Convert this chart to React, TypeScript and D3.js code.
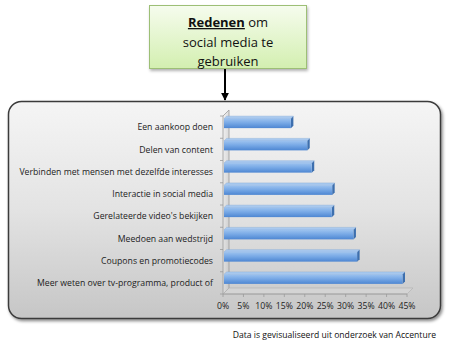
import React from "react";
import * as d3 from "d3";

const categories = [
  "Een aankoop doen",
  "Delen van content",
  "Verbinden met mensen met dezelfde interesses",
  "Interactie in social media",
  "Gerelateerde video's bekijken",
  "Meedoen aan wedstrijd",
  "Coupons en promotiecodes",
  "Meer weten over tv-programma, product of",
];
const values = [16.6, 20.6, 21.7, 26.7, 26.6, 31.9, 32.8, 43.9];
const tickValues = [0, 5, 10, 15, 20, 25, 30, 35, 40, 45];
const titleBold = "Redenen";
const titleLines = [" om", "social media te", "gebruiken"];
const footer = "Data is gevisualiseerd uit onderzoek van Accenture";

const FONT = "'Open Sans', Lato, sans-serif";

export default function App() {
  const x = d3.scaleLinear().domain([0, 45]).range([223, 407]);
  const y = d3.scaleBand<string>().domain(categories).range([116, 294]);
  const bw = y.bandwidth();
  const depth = 6;
  const bd = 2.5;
  const floorY = 294;
  const wallTop = 116;

  return (
    <svg width={449} height={344} style={{ position: "absolute", left: 0, top: 0 }}>
      <defs>
        <linearGradient id="panelG" x1="0" y1="0" x2="0" y2="1">
          <stop offset="0" stopColor="#f5f5f5" />
          <stop offset="0.5" stopColor="#e3e3e3" />
          <stop offset="1" stopColor="#c6c6c6" />
        </linearGradient>
        <linearGradient id="titleG" x1="0" y1="0" x2="0" y2="1">
          <stop offset="0" stopColor="#f6fcee" />
          <stop offset="1" stopColor="#d3efb0" />
        </linearGradient>
        <linearGradient id="barG" x1="0" y1="0" x2="0" y2="1">
          <stop offset="0" stopColor="#9cc2ef" />
          <stop offset="0.45" stopColor="#78a9e6" />
          <stop offset="1" stopColor="#4d86d2" />
        </linearGradient>
        <linearGradient id="wallG" x1="0" y1="0" x2="1" y2="1">
          <stop offset="0" stopColor="#f2f2f2" />
          <stop offset="1" stopColor="#c8c8c8" />
        </linearGradient>
        <filter id="sh" x="-10%" y="-10%" width="120%" height="130%">
          <feDropShadow dx="1.5" dy="2" stdDeviation="1.5" floodColor="#000" floodOpacity="0.45" />
        </filter>
        <filter id="sh2" x="-10%" y="-10%" width="130%" height="140%">
          <feDropShadow dx="1" dy="2" stdDeviation="1.5" floodColor="#000" floodOpacity="0.3" />
        </filter>
        <marker id="arr" viewBox="0 0 10 10" refX="9" refY="5" markerWidth="4" markerHeight="4" orient="auto">
          <path d="M0,0 L10,5 L0,10 z" fill="#000" />
        </marker>
      </defs>

      {/* title box */}
      <rect x={149.5} y={5.5} width={157} height={63} fill="url(#titleG)" stroke="#9dbf76" strokeWidth={1} filter="url(#sh2)" />
      <text x={228} y={27} textAnchor="middle" fontFamily={FONT} fontSize={13} fill="#111">
        <tspan fontWeight="bold" textDecoration="underline">{titleBold}</tspan>
        <tspan>{titleLines[0]}</tspan>
      </text>
      <text x={228} y={47} textAnchor="middle" fontFamily={FONT} fontSize={13} fill="#111">{titleLines[1]}</text>
      <text x={228} y={66} textAnchor="middle" fontFamily={FONT} fontSize={13} fill="#111">{titleLines[2]}</text>

      {/* arrow */}
      <line x1={225} y1={69} x2={225} y2={100} stroke="#000" strokeWidth={2} markerEnd="url(#arr)" />

      {/* panel */}
      <rect x={8.5} y={101.5} width={432} height={217} rx={13} fill="url(#panelG)" stroke="#3a3a3a" strokeWidth={1.5} filter="url(#sh)" />

      {/* wall */}
      <path d={`M${x(0)},${wallTop} L${x(0) + depth},${wallTop - depth} L${x(0) + depth},${floorY - depth} L${x(0)},${floorY} Z`} fill="url(#wallG)" stroke="#9a9a9a" strokeWidth={0.8} />
      {/* floor */}
      <path d={`M${x(0)},${floorY} L${x(0) + depth},${floorY - depth} L${x(45) + depth},${floorY - depth} L${x(45)},${floorY} Z`} fill="#d4d4d4" stroke="#b0b0b0" strokeWidth={0.6} />
      {/* category ticks on wall */}
      {categories.map((c, i) => (
        <line key={"ct" + i} x1={x(0) - 3} x2={x(0)} y1={(y(c) as number)} y2={(y(c) as number)} stroke="#999" strokeWidth={0.8} />
      ))}
      <line x1={x(0) - 3} x2={x(0)} y1={floorY} y2={floorY} stroke="#999" strokeWidth={0.8} />

      {/* axis */}
      <line x1={x(0)} x2={x(45)} y1={floorY} y2={floorY} stroke="#9a9a9a" strokeWidth={0.8} />
      {tickValues.map((t) => (
        <g key={"t" + t}>
          <line x1={x(t)} x2={x(t)} y1={floorY} y2={floorY + 3} stroke="#9a9a9a" strokeWidth={0.8} />
          <text x={x(t)} y={307} textAnchor="middle" dominantBaseline="middle" fontFamily={FONT} fontSize={8.7} fill="#222">
            {t + "%"}
          </text>
        </g>
      ))}

      {/* bars */}
      {categories.map((c, i) => {
        const cy = (y(c) as number) + bw / 2;
        const top = cy - 8.5;
        const h = 9.5;
        const x0 = x(0) + 1;
        const x1 = x(values[i]);
        return (
          <g key={"b" + i}>
            <path d={`M${x0},${top} L${x0 + bd},${top - bd} L${x1 + bd},${top - bd} L${x1},${top} Z`} fill="#a9c9ef" stroke="#7ea7d8" strokeWidth={0.4} />
            <path d={`M${x1},${top} L${x1 + bd},${top - bd} L${x1 + bd},${top + h - bd} L${x1},${top + h} Z`} fill="#3d6fae" />
            <rect x={x0} y={top} width={x1 - x0} height={h} fill="url(#barG)" />
          </g>
        );
      })}

      {/* category labels */}
      {categories.map((c, i) => (
        <text key={"l" + i} x={213} y={(y(c) as number) + bw / 2 + 1} textAnchor="end" dominantBaseline="middle" fontFamily={FONT} fontSize={8.7} fill="#222">
          {c}
        </text>
      ))}

      {/* footer */}
      <text x={436} y={336} textAnchor="end" dominantBaseline="middle" fontFamily={FONT} fontSize={8.6} fill="#111">
        {footer}
      </text>
    </svg>
  );
}
